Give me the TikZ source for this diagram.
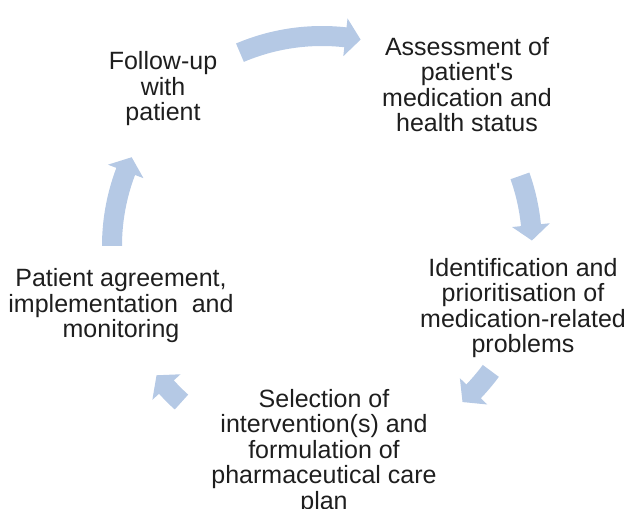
\documentclass[tikz,border=0pt]{standalone}
\usepackage{fontspec}
\setmainfont{Liberation Sans}
\usepackage{xcolor}
\usepackage{tikz}
\usetikzlibrary{calc}
\definecolor{ink}{HTML}{1E1E1E}
\definecolor{cycblue}{RGB}{181,201,229}
\tikzset{
  cyc/.style={fill=cycblue, draw=none},
  lbl/.style={text=ink, align=center, inner sep=0pt, anchor=base,
    font=\fontsize{25}{25.5}\selectfont},
}

\begin{document}
\begin{tikzpicture}[x=1pt, y=1pt]
  \useasboundingbox (0,0) rectangle (628,508);
  \def\r{210}
  \def\rout{220}
  \def\rin{200}
  \def\hout{229}
  \def\hin{191}
  \def\hl{4.2}
  \coordinate (O) at (322,262);

  % curved block arrows of the cycle (clockwise)
  \begin{scope}[shift={(O)}]
    \foreach \a/\b in {113/79.4, 19.5/1.5, -36.5/-48, 228/218, 180/155}{
      \pgfmathsetmacro\c{\b+\hl}
      \fill[cyc] (\a:\rout) arc[start angle=\a, end angle=\c, radius=\rout]
        -- (\c:\hout) -- (\b:\r) -- (\c:\hin) -- (\c:\rin)
        arc[start angle=\c, end angle=\a, radius=\rin] -- cycle;
    }
  \end{scope}

  % base anchor sits on the last line
  \node[lbl] (assess) at (467,376) {Assessment of\\patient\textquotesingle s\\medication and\\health status};
  \node[lbl] (ident) at (523,155) {Identification and\\prioritisation of\\medication-related\\problems};
  \node[lbl] (select) at (324,-1) {Selection of\\intervention(s) and\\formulation of\\pharmaceutical care\\plan};
  \node[lbl] (agree) at (121,170) {Patient agreement,\\implementation\ \ and\\monitoring};
  \node[lbl] (follow) at (163,387) {Follow-up\\with\\patient};
\end{tikzpicture}
\end{document}
